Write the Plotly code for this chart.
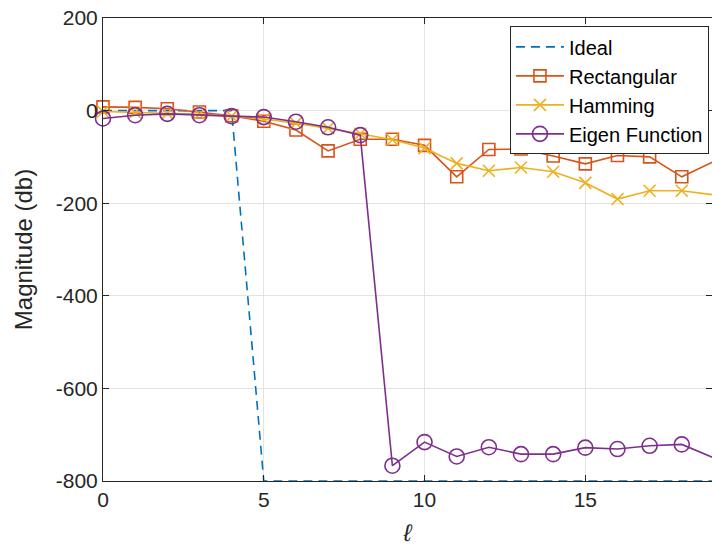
import plotly.graph_objects as go

# Sample index ℓ
ell = list(range(20))

# Magnitude responses in dB
ideal = [0, 0, 0, 0, 0] + [-800] * 15
rectangular = [8, 7, 4, -3, -11, -23, -42, -87, -62, -62, -75, -143, -84, -83,
               -98, -115, -97, -100, -143, -110]
hamming = [-2, -4, -6, -8, -12, -18, -27, -38, -50, -63, -81, -114, -130, -123,
           -132, -156, -191, -173, -173, -182]
eigen_fn = [-17, -10, -7, -10, -12, -14, -24, -36, -53, -767, -716, -747, -727,
            -742, -742, -728, -731, -724, -721, -750]

y_ticks = [200, 0, -200, -400, -600, -800]
x_ticks = [0, 5, 10, 15]

FONT = "Liberation Sans, Arial, sans-serif"
TXT = "#262626"

fig = go.Figure()
fig.add_trace(go.Scatter(x=ell, y=ideal, name="Ideal", mode="lines",
                         line=dict(color="#0072BD", width=1.6, dash="9px,6px")))
fig.add_trace(go.Scatter(x=ell, y=rectangular, name="Rectangular", mode="lines+markers",
                         line=dict(color="#D95319", width=1.6),
                         marker=dict(symbol="square-open", size=12, color="#D95319",
                                     line=dict(width=1.6)),
                         cliponaxis=False))
fig.add_trace(go.Scatter(x=ell, y=hamming, name="Hamming", mode="lines+markers",
                         line=dict(color="#EDB120", width=1.6),
                         marker=dict(symbol="x-thin-open", size=12, color="#EDB120",
                                     line=dict(width=1.6, color="#EDB120")),
                         cliponaxis=False))
fig.add_trace(go.Scatter(x=ell, y=eigen_fn, name="Eigen Function", mode="lines+markers",
                         line=dict(color="#7E2F8E", width=1.6),
                         marker=dict(symbol="circle-open", size=15, color="#7E2F8E",
                                     line=dict(width=1.6)),
                         cliponaxis=False))

axis_common = dict(
    showline=True, linecolor="#262626", linewidth=1, mirror="ticks",
    ticks="inside", ticklen=6, tickcolor="#262626",
    showgrid=True, gridcolor="#E3E3E3", gridwidth=1, zeroline=False,
    tickfont=dict(family=FONT, size=21, color=TXT),
)

fig.update_xaxes(range=[0, 18.94], tickvals=x_ticks, ticktext=[str(v) for v in x_ticks],
                 title=dict(text="<i>ℓ</i>", font=dict(family=FONT, size=24, color=TXT),
                            standoff=14),
                 **axis_common)
fig.update_yaxes(range=[-800, 200], tickvals=y_ticks, ticktext=[str(v) for v in y_ticks],
                 title=dict(text="Magnitude (db)", font=dict(family=FONT, size=24, color=TXT),
                            standoff=16),
                 **axis_common)

fig.update_layout(
    width=712, height=546,
    margin=dict(l=103, r=0, t=18, b=65),
    paper_bgcolor="white", plot_bgcolor="white",
    showlegend=True,
    legend=dict(x=0.995, y=0.982, xanchor="right", yanchor="top",
                bgcolor="white", bordercolor="#262626", borderwidth=1,
                font=dict(family=FONT, size=20, color="black"),
                tracegroupgap=0, itemwidth=48),
)

fig.write_html("out.html")
